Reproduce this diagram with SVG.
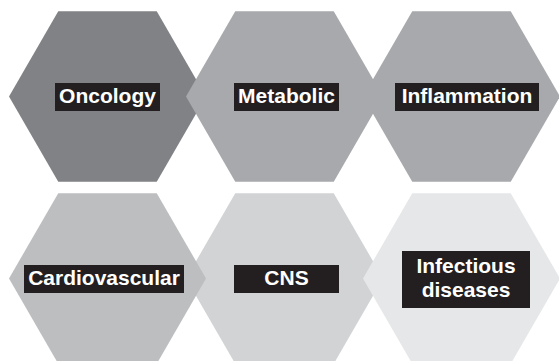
<svg xmlns="http://www.w3.org/2000/svg" width="559" height="361" viewBox="0 0 559 361">
  <defs>
    <!-- flat-topped regular hexagon, centred on the origin -->
    <polygon id="hex" points="-98.5,0 -49.25,-85.3 49.25,-85.3 98.5,0 49.25,85.3 -49.25,85.3"/>
    <style>
      .tag { fill: #231f20; }
      .lbl { fill: #ffffff; font-family: "Liberation Sans", Arial, Helvetica, sans-serif; font-weight: bold; font-size: 21px; text-anchor: middle; }
    </style>
  </defs>
  <rect width="559" height="361" fill="#ffffff"/>

  <!-- top row -->
  <g id="oncology">
    <use href="#hex" x="107.5" y="96.5" fill="#808285"/>
  </g>
  <g id="inflammation">
    <use href="#hex" x="461.5" y="96.5" fill="#a7a9ac"/>
  </g>
  <g id="metabolic">
    <use href="#hex" x="284.5" y="96.5" fill="#a7a9ac"/>
  </g>

  <!-- bottom row -->
  <g id="cns">
    <use href="#hex" x="284.5" y="278.5" fill="#d1d3d4"/>
  </g>
  <g id="cardiovascular">
    <use href="#hex" x="107.5" y="278.5" fill="#bcbec0"/>
  </g>
  <g id="infectious-diseases">
    <use href="#hex" x="461.5" y="278.5" fill="#e6e7e8"/>
  </g>

  <!-- label tags, kept above all hexagons -->
  <g id="labels">
    <rect class="tag" x="55" y="83" width="105" height="28"/>
    <text class="lbl" x="107.5" y="102.5">Oncology</text>

    <rect class="tag" x="234" y="83" width="105" height="28"/>
    <text class="lbl" x="286.5" y="102.5">Metabolic</text>

    <rect class="tag" x="395" y="83" width="144" height="28"/>
    <text class="lbl" x="467" y="102.5">Inflammation</text>

    <rect class="tag" x="24" y="265" width="160" height="28"/>
    <text class="lbl" x="104" y="285">Cardiovascular</text>

    <rect class="tag" x="234" y="265" width="105" height="28"/>
    <text class="lbl" x="286.5" y="285">CNS</text>

    <rect class="tag" x="402" y="251" width="128" height="57"/>
    <text class="lbl" x="466" y="272.5">Infectious</text>
    <text class="lbl" x="466" y="297">diseases</text>
  </g>
</svg>
